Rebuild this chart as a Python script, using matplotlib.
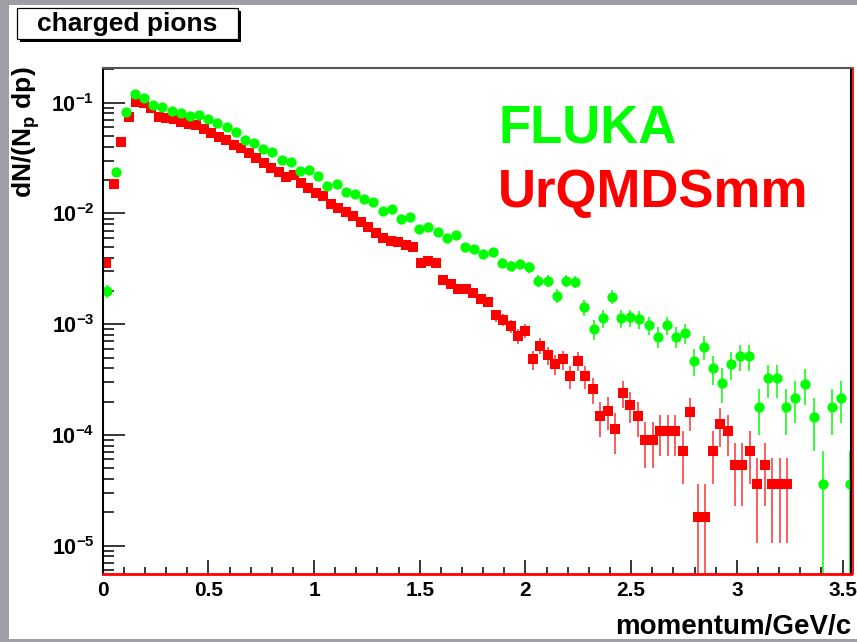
import numpy as np
import matplotlib
matplotlib.use('Agg')
import matplotlib.pyplot as plt
from matplotlib.patches import Rectangle
from matplotlib.lines import Line2D
from matplotlib.ticker import FixedLocator, NullFormatter

plt.rcParams['font.family'] = ['Liberation Sans', 'DejaVu Sans']
plt.rcParams['font.weight'] = 'bold'
plt.rcParams['mathtext.fontset'] = 'custom'
plt.rcParams['mathtext.rm'] = 'Liberation Sans:bold'
plt.rcParams['mathtext.it'] = 'Liberation Sans:bold'
plt.rcParams['mathtext.bf'] = 'Liberation Sans:bold'

# histogram binning (GeV/c) and the weight of one entry
urqmd_bin_width = 0.0354
fluka_bin_width = 0.0434
urqmd_unit = 1.8e-5
fluka_unit = 3.6e-5

# UrQMDSmm, 100 bins from 0 (0 = empty bin)
urqmd_values = [
    3.55e-3, 1.85e-2, 4.38e-2, 7.38e-2, 0.102, 0.100, 0.089, 0.0748, 0.0723, 0.0708,
    0.0674, 0.0643, 0.0630, 0.0576, 0.0536, 0.0493, 0.0460, 0.0415, 0.0387, 0.0349,
    0.0315, 0.0284, 0.0256, 0.0238, 0.0215, 0.0222, 0.0187, 0.0169, 0.0152, 0.0144,
    0.0122, 0.0111, 0.0104, 0.0094, 0.0084, 0.0076, 0.0066, 0.0060, 0.0057, 0.0055,
    0.0052, 0.0050, 0.0036, 0.0037, 0.0036, 0.0025, 0.0023, 0.0021, 0.0021, 0.0019,
    0.0017, 0.0016, 0.0012, 0.0011, 0.00096, 0.00078, 0.00087, 0.00048, 0.00064, 0.00053,
    0.00044, 0.00048, 0.00034, 0.00047, 0.00034, 0.00026, 1.48e-4, 1.66e-4, 1.12e-4, 2.41e-4,
    1.86e-4, 1.48e-4, 9.0e-5, 9.0e-5, 1.08e-4, 1.08e-4, 1.08e-4, 7.2e-5, 1.62e-4, 1.8e-5,
    1.8e-5, 7.2e-5, 1.26e-4, 1.08e-4, 5.4e-5, 5.4e-5, 7.2e-5, 3.6e-5, 5.4e-5, 3.6e-5,
    3.6e-5, 3.6e-5, 0, 0, 0, 0, 0, 0, 0, 0,
]

# FLUKA, 82 bins from 0
fluka_values = [
    0.0020, 0.0235, 0.083, 0.120, 0.110, 0.0953, 0.0908, 0.0847, 0.0802, 0.0763,
    0.0774, 0.0708, 0.0651, 0.0607, 0.0547, 0.0460, 0.0429, 0.0379, 0.0361, 0.0304,
    0.0293, 0.0243, 0.0247, 0.0218, 0.0177, 0.0185, 0.0157, 0.0150, 0.0134, 0.0128,
    0.0105, 0.0110, 0.00885, 0.00935, 0.00720, 0.00750, 0.00684, 0.00604, 0.00638, 0.00494,
    0.00477, 0.00427, 0.00451, 0.00359, 0.00335, 0.00350, 0.00327, 0.00247, 0.00247, 0.00181,
    0.00247, 0.00242, 0.00142, 0.000906, 0.00113, 0.00177, 0.00113, 0.00115, 0.00111, 0.000984,
    0.000771, 0.000984, 0.000771, 0.000838, 0.000468, 0.000626, 0.000400, 0.000296, 0.000438, 0.000516,
    0.000516, 0.000180, 0.000324, 0.000324, 0.000180, 0.000216, 0.000288, 0.000144, 0.000036, 0.000180,
    0.000216, 0.000036,
]

x_ticks = [0, 0.5, 1, 1.5, 2, 2.5, 3, 3.5]
x_tick_labels = ['0', '0.5', '1', '1.5', '2', '2.5', '3', '3.5']
y_ticks = [1e-5, 1e-4, 1e-3, 1e-2, 1e-1]
y_tick_labels = [r'$10^{-5}$', r'$10^{-4}$', r'$10^{-3}$', r'$10^{-2}$', r'$10^{-1}$']

W, H = 857, 642


def fx(px):
    return px / W


def fy(py):
    return 1 - py / H


fig = plt.figure(figsize=(W / 100, H / 100), dpi=100)
fig.patch.set_facecolor('#9e9ea6')
fig.patches.append(Rectangle((fx(9), fy(639)), 1, (639 - 5) / H,
                             transform=fig.transFigure, facecolor='white',
                             edgecolor='none', zorder=-5))

ax = fig.add_axes([fx(102.7), fy(573.7), fx(851) - fx(102.7), fy(68.3) - fy(573.7)])
ax.set_yscale('log', nonpositive='clip')

urqmd = np.array(urqmd_values)
fluka = np.array(fluka_values)
urqmd_x = (np.arange(len(urqmd)) + 0.5) * urqmd_bin_width
fluka_x = (np.arange(len(fluka)) + 0.5) * fluka_bin_width
keep = urqmd > 0

ax.errorbar(
    urqmd_x[keep],
    urqmd[keep],
    yerr=np.sqrt(urqmd[keep] * urqmd_unit),
    fmt='s',
    color='#ff0000',
    markersize=7.6,
    markeredgewidth=0,
    ecolor='#ff3030',
    elinewidth=1.1,
    capsize=0,
)
ax.errorbar(
    fluka_x,
    fluka,
    yerr=np.sqrt(fluka * fluka_unit),
    fmt='o',
    color='#00ff00',
    markersize=7.4,
    markeredgewidth=0,
    ecolor='#00ff00',
    elinewidth=1.1,
    capsize=0,
)

ax.set_xlim(0, 3.54)
ax.set_ylim(5.58e-6, 0.2047)

ax.xaxis.set_major_locator(FixedLocator(x_ticks))
ax.set_xticklabels(x_tick_labels)
ax.xaxis.set_minor_locator(FixedLocator(np.arange(0.1, 3.55, 0.1)))
ax.yaxis.set_major_locator(FixedLocator(y_ticks))
ax.set_yticklabels(y_tick_labels)
ax.yaxis.set_minor_locator(FixedLocator(
    [m * 10.0 ** e for e in range(-6, 0) for m in range(2, 10)]))
ax.yaxis.set_minor_formatter(NullFormatter())

ax.tick_params(axis='x', which='major', direction='in', length=10, width=1.1,
               labelsize=15, pad=5, top=False)
ax.tick_params(axis='x', which='minor', direction='in', length=4.7, width=1.1, top=False)
ax.tick_params(axis='y', which='major', direction='in', length=16, width=1.1,
               labelsize=15.5, pad=6, right=False)
ax.tick_params(axis='y', which='minor', direction='in', length=8, width=1.1, right=False)

ax.spines['left'].set_linewidth(1.5)
ax.spines['right'].set_linewidth(1.5)
ax.spines['top'].set_linewidth(1.5)
ax.spines['top'].set_color('#555555')
ax.spines['bottom'].set_linewidth(2)
ax.spines['bottom'].set_color('#ff0000')

fig.lines.append(Line2D([fx(852.6), fx(852.6)], [fy(68.3), fy(573.7)],
                        transform=fig.transFigure, color='#ff0000', linewidth=1.3))

ax.text(
    fx(498), fy(142.3), 'FLUKA',
    transform=fig.transFigure, color='#00ff00', fontsize=38,
    fontweight='bold', ha='left', va='baseline'
)
ax.text(
    fx(498), fy(206.7), 'UrQMDSmm',
    transform=fig.transFigure, color='#ff0000', fontsize=38,
    fontweight='bold', ha='left', va='baseline'
)

# title box with shadow
fig.patches.append(Rectangle((fx(20.3), fy(42.3)), fx(220.7), 31 / H,
                             transform=fig.transFigure, facecolor='black',
                             edgecolor='none', zorder=2))
fig.patches.append(Rectangle((fx(17.3), fy(39.3)), fx(220.7), 31 / H,
                             transform=fig.transFigure, facecolor='white',
                             edgecolor='black', linewidth=0.9, zorder=3))
fig.text(fx(127.5), fy(31.5), 'charged pions', fontsize=19, fontweight='bold',
         ha='center', va='baseline', zorder=4)

fig.text(fx(26), fy(66), r'dN/(N$_{p}$ dp)', fontsize=19, fontweight='bold',
         rotation=90, ha='center', va='top')
fig.text(fx(851), fy(634), 'momentum/GeV/c', fontsize=20, fontweight='bold',
         ha='right', va='baseline')

fig.savefig('out.png', dpi=100, facecolor=fig.get_facecolor())
